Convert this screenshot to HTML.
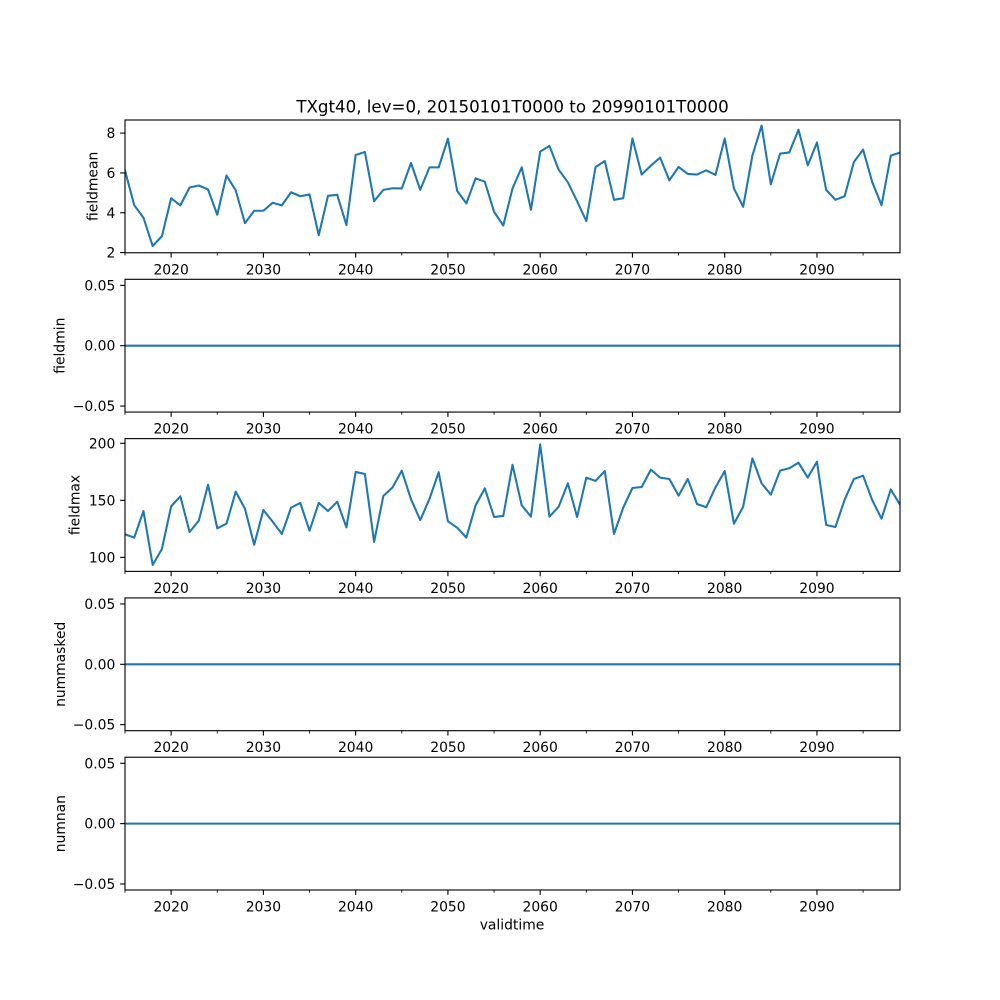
<!DOCTYPE html>
<html><head><meta charset="utf-8"><style>
html,body{margin:0;padding:0;background:#fff;}
svg{display:block;}
text{font-family:"DejaVu Sans","Liberation Sans",sans-serif;fill:#000;}
.t{font-size:13.89px;}
.yt{font-size:13.89px;text-anchor:end;}
.xt{font-size:13.89px;text-anchor:middle;}
.ln{fill:none;stroke:#1f77b4;stroke-width:2.08px;stroke-linejoin:round;stroke-linecap:square;}
.sp{fill:none;stroke:#000;stroke-width:1.11px;}
.tk{stroke:#000;stroke-width:1.11px;}
.mt{stroke:#000;stroke-width:0.83px;}
</style></head><body>
<svg width="1000" height="1000" viewBox="0 0 1000 1000" xmlns="http://www.w3.org/2000/svg">
<rect width="1000" height="1000" fill="#fff"/>
<defs>
<clipPath id="c1"><rect x="125" y="120" width="775" height="132.76"/></clipPath>
<clipPath id="c3"><rect x="125" y="438.62" width="775" height="132.76"/></clipPath>
</defs>

<text x="512.5" y="112.7" style="font-size:16.67px;text-anchor:middle">TXgt40, lev=0, 20150101T0000 to 20990101T0000</text>

<!-- Axes 1 fieldmean -->
<g clip-path="url(#c1)">
<polyline class="ln" vector-effect="non-scaling-stroke" transform="translate(125 252.76) scale(9.2262 -19.904) translate(0 -1.99)" points="0,6.12 1,4.38 2,3.75 3,2.33 4,2.82 5,4.73 6,4.37 7,5.27 8,5.37 9,5.17 10,3.9 11,5.87 12,5.13 13,3.48 14,4.1 15,4.1 16,4.5 17,4.37 18,5.03 19,4.83 20,4.92 21,2.87 22,4.85 23,4.9 24,3.38 25,6.9 26,7.05 27,4.58 28,5.15 29,5.23 30,5.22 31,6.5 32,5.15 33,6.28 34,6.28 35,7.72 36,5.1 37,4.47 38,5.73 39,5.56 40,4.05 41,3.36 42,5.22 43,6.28 44,4.15 45,7.07 46,7.36 47,6.17 48,5.53 49,4.58 50,3.58 51,6.3 52,6.6 53,4.65 54,4.73 55,7.73 56,5.92 57,6.37 58,6.77 59,5.63 60,6.3 61,5.95 62,5.92 63,6.13 64,5.9 65,7.73 66,5.22 67,4.3 68,6.87 69,8.38 70,5.43 71,6.97 72,7.03 73,8.17 74,6.38 75,7.53 76,5.15 77,4.65 78,4.83 79,6.55 80,7.17 81,5.53 82,4.38 83,6.87 84,7.02"/>
</g>
<rect class="sp" x="125" y="120" width="775" height="132.76"/>
<g class="tk">
<line x1="120.14" y1="133.1" x2="125" y2="133.1"/>
<line x1="120.14" y1="172.95" x2="125" y2="172.95"/>
<line x1="120.14" y1="212.75" x2="125" y2="212.75"/>
<line x1="120.14" y1="252.56" x2="125" y2="252.56"/>
</g>
<text class="yt" x="115.3" y="138.1">8</text>
<text class="yt" x="115.3" y="177.95">6</text>
<text class="yt" x="115.3" y="217.75">4</text>
<text class="yt" x="115.3" y="257.56">2</text>
<g class="tk">
<line x1="171.13" y1="252.76" x2="171.13" y2="257.62"/><line x1="263.39" y1="252.76" x2="263.39" y2="257.62"/><line x1="355.65" y1="252.76" x2="355.65" y2="257.62"/><line x1="447.92" y1="252.76" x2="447.92" y2="257.62"/><line x1="540.18" y1="252.76" x2="540.18" y2="257.62"/><line x1="632.44" y1="252.76" x2="632.44" y2="257.62"/><line x1="724.70" y1="252.76" x2="724.70" y2="257.62"/><line x1="816.96" y1="252.76" x2="816.96" y2="257.62"/>
</g>
<g class="mt">
<line x1="125" y1="252.76" x2="125" y2="255.54"/><line x1="217.26" y1="252.76" x2="217.26" y2="255.54"/><line x1="309.52" y1="252.76" x2="309.52" y2="255.54"/><line x1="401.79" y1="252.76" x2="401.79" y2="255.54"/><line x1="494.05" y1="252.76" x2="494.05" y2="255.54"/><line x1="586.31" y1="252.76" x2="586.31" y2="255.54"/><line x1="678.57" y1="252.76" x2="678.57" y2="255.54"/><line x1="770.83" y1="252.76" x2="770.83" y2="255.54"/><line x1="863.10" y1="252.76" x2="863.10" y2="255.54"/>
</g>
<text class="xt" x="171.13" y="274.3">2020</text><text class="xt" x="263.39" y="274.3">2030</text><text class="xt" x="355.65" y="274.3">2040</text><text class="xt" x="447.92" y="274.3">2050</text><text class="xt" x="540.18" y="274.3">2060</text><text class="xt" x="632.44" y="274.3">2070</text><text class="xt" x="724.70" y="274.3">2080</text><text class="xt" x="816.96" y="274.3">2090</text>
<text class="t" transform="translate(97.3 186.4) rotate(-90)" text-anchor="middle">fieldmean</text>

<!-- Axes 2 fieldmin -->
<line class="ln" x1="125" y1="345.69" x2="900" y2="345.69" style="stroke-linecap:butt"/>
<rect class="sp" x="125" y="279.31" width="775" height="132.76"/>
<g class="tk">
<line x1="120.14" y1="285.34" x2="125" y2="285.34"/>
<line x1="120.14" y1="345.69" x2="125" y2="345.69"/>
<line x1="120.14" y1="406.04" x2="125" y2="406.04"/>
</g>
<text class="yt" x="115.3" y="290.34">0.05</text>
<text class="yt" x="115.3" y="350.69">0.00</text>
<text class="yt" x="115.3" y="411.04">−0.05</text>
<g class="tk">
<line x1="171.13" y1="412.07" x2="171.13" y2="416.93"/><line x1="263.39" y1="412.07" x2="263.39" y2="416.93"/><line x1="355.65" y1="412.07" x2="355.65" y2="416.93"/><line x1="447.92" y1="412.07" x2="447.92" y2="416.93"/><line x1="540.18" y1="412.07" x2="540.18" y2="416.93"/><line x1="632.44" y1="412.07" x2="632.44" y2="416.93"/><line x1="724.70" y1="412.07" x2="724.70" y2="416.93"/><line x1="816.96" y1="412.07" x2="816.96" y2="416.93"/>
</g>
<g class="mt">
<line x1="125" y1="412.07" x2="125" y2="414.85"/><line x1="217.26" y1="412.07" x2="217.26" y2="414.85"/><line x1="309.52" y1="412.07" x2="309.52" y2="414.85"/><line x1="401.79" y1="412.07" x2="401.79" y2="414.85"/><line x1="494.05" y1="412.07" x2="494.05" y2="414.85"/><line x1="586.31" y1="412.07" x2="586.31" y2="414.85"/><line x1="678.57" y1="412.07" x2="678.57" y2="414.85"/><line x1="770.83" y1="412.07" x2="770.83" y2="414.85"/><line x1="863.10" y1="412.07" x2="863.10" y2="414.85"/>
</g>
<text class="xt" x="171.13" y="433.6">2020</text><text class="xt" x="263.39" y="433.6">2030</text><text class="xt" x="355.65" y="433.6">2040</text><text class="xt" x="447.92" y="433.6">2050</text><text class="xt" x="540.18" y="433.6">2060</text><text class="xt" x="632.44" y="433.6">2070</text><text class="xt" x="724.70" y="433.6">2080</text><text class="xt" x="816.96" y="433.6">2090</text>
<text class="t" transform="translate(64.5 345.69) rotate(-90)" text-anchor="middle">fieldmin</text>

<!-- Axes 3 fieldmax -->
<g clip-path="url(#c3)">
<polyline class="ln" vector-effect="non-scaling-stroke" transform="translate(125 571.38) scale(9.2262 -1.1405) translate(0 -87.7)" points="0,120.2 1,117.3 2,140.6 3,93.3 4,107.3 5,144.7 6,153.5 7,122.2 8,132.2 9,163.7 10,125.4 11,129.5 12,157.6 13,142.7 14,111.1 15,141.5 16,131.3 17,120.5 18,143.6 19,147.7 20,123.4 21,147.7 22,140.6 23,148.8 24,126.3 25,174.9 26,173.1 27,113.5 28,153.8 29,161.4 30,176 31,150.9 32,132.7 33,151.2 34,174.6 35,131.6 36,126 37,117.3 38,145.6 39,160.5 40,135.4 41,136.3 42,181.2 43,145.6 44,135.7 45,199.1 46,135.7 47,144.4 48,164.9 49,135.4 50,169.9 51,167 52,175.7 53,120.5 54,143.6 55,160.8 56,161.7 57,176.9 58,169.9 59,168.7 60,154.1 61,168.7 62,146.8 63,143.9 64,161.4 65,175.7 66,129.5 67,144.4 68,186.8 69,164.9 70,155 71,176 72,178.1 73,183 74,169.9 75,183.9 76,128.4 77,126.6 78,150.6 79,168.7 80,171.6 81,150 82,133.9 83,159.6 84,146.2"/>
</g>
<rect class="sp" x="125" y="438.62" width="775" height="132.76"/>
<g class="tk">
<line x1="120.14" y1="443.3" x2="125" y2="443.3"/>
<line x1="120.14" y1="500.33" x2="125" y2="500.33"/>
<line x1="120.14" y1="557.35" x2="125" y2="557.35"/>
</g>
<text class="yt" x="115.3" y="448.3">200</text>
<text class="yt" x="115.3" y="505.33">150</text>
<text class="yt" x="115.3" y="562.35">100</text>
<g class="tk">
<line x1="171.13" y1="571.38" x2="171.13" y2="576.24"/><line x1="263.39" y1="571.38" x2="263.39" y2="576.24"/><line x1="355.65" y1="571.38" x2="355.65" y2="576.24"/><line x1="447.92" y1="571.38" x2="447.92" y2="576.24"/><line x1="540.18" y1="571.38" x2="540.18" y2="576.24"/><line x1="632.44" y1="571.38" x2="632.44" y2="576.24"/><line x1="724.70" y1="571.38" x2="724.70" y2="576.24"/><line x1="816.96" y1="571.38" x2="816.96" y2="576.24"/>
</g>
<g class="mt">
<line x1="125" y1="571.38" x2="125" y2="574.16"/><line x1="217.26" y1="571.38" x2="217.26" y2="574.16"/><line x1="309.52" y1="571.38" x2="309.52" y2="574.16"/><line x1="401.79" y1="571.38" x2="401.79" y2="574.16"/><line x1="494.05" y1="571.38" x2="494.05" y2="574.16"/><line x1="586.31" y1="571.38" x2="586.31" y2="574.16"/><line x1="678.57" y1="571.38" x2="678.57" y2="574.16"/><line x1="770.83" y1="571.38" x2="770.83" y2="574.16"/><line x1="863.10" y1="571.38" x2="863.10" y2="574.16"/>
</g>
<text class="xt" x="171.13" y="592.9">2020</text><text class="xt" x="263.39" y="592.9">2030</text><text class="xt" x="355.65" y="592.9">2040</text><text class="xt" x="447.92" y="592.9">2050</text><text class="xt" x="540.18" y="592.9">2060</text><text class="xt" x="632.44" y="592.9">2070</text><text class="xt" x="724.70" y="592.9">2080</text><text class="xt" x="816.96" y="592.9">2090</text>
<text class="t" transform="translate(79.3 505) rotate(-90)" text-anchor="middle">fieldmax</text>

<!-- Axes 4 nummasked -->
<line class="ln" x1="125" y1="664.31" x2="900" y2="664.31" style="stroke-linecap:butt"/>
<rect class="sp" x="125" y="597.93" width="775" height="132.76"/>
<g class="tk">
<line x1="120.14" y1="603.96" x2="125" y2="603.96"/>
<line x1="120.14" y1="664.31" x2="125" y2="664.31"/>
<line x1="120.14" y1="724.66" x2="125" y2="724.66"/>
</g>
<text class="yt" x="115.3" y="608.96">0.05</text>
<text class="yt" x="115.3" y="669.31">0.00</text>
<text class="yt" x="115.3" y="729.66">−0.05</text>
<g class="tk">
<line x1="171.13" y1="730.69" x2="171.13" y2="735.55"/><line x1="263.39" y1="730.69" x2="263.39" y2="735.55"/><line x1="355.65" y1="730.69" x2="355.65" y2="735.55"/><line x1="447.92" y1="730.69" x2="447.92" y2="735.55"/><line x1="540.18" y1="730.69" x2="540.18" y2="735.55"/><line x1="632.44" y1="730.69" x2="632.44" y2="735.55"/><line x1="724.70" y1="730.69" x2="724.70" y2="735.55"/><line x1="816.96" y1="730.69" x2="816.96" y2="735.55"/>
</g>
<g class="mt">
<line x1="125" y1="730.69" x2="125" y2="733.47"/><line x1="217.26" y1="730.69" x2="217.26" y2="733.47"/><line x1="309.52" y1="730.69" x2="309.52" y2="733.47"/><line x1="401.79" y1="730.69" x2="401.79" y2="733.47"/><line x1="494.05" y1="730.69" x2="494.05" y2="733.47"/><line x1="586.31" y1="730.69" x2="586.31" y2="733.47"/><line x1="678.57" y1="730.69" x2="678.57" y2="733.47"/><line x1="770.83" y1="730.69" x2="770.83" y2="733.47"/><line x1="863.10" y1="730.69" x2="863.10" y2="733.47"/>
</g>
<text class="xt" x="171.13" y="752.2">2020</text><text class="xt" x="263.39" y="752.2">2030</text><text class="xt" x="355.65" y="752.2">2040</text><text class="xt" x="447.92" y="752.2">2050</text><text class="xt" x="540.18" y="752.2">2060</text><text class="xt" x="632.44" y="752.2">2070</text><text class="xt" x="724.70" y="752.2">2080</text><text class="xt" x="816.96" y="752.2">2090</text>
<text class="t" transform="translate(65 664.31) rotate(-90)" text-anchor="middle">nummasked</text>

<!-- Axes 5 numnan -->
<line class="ln" x1="125" y1="823.62" x2="900" y2="823.62" style="stroke-linecap:butt"/>
<rect class="sp" x="125" y="757.24" width="775" height="132.76"/>
<g class="tk">
<line x1="120.14" y1="763.27" x2="125" y2="763.27"/>
<line x1="120.14" y1="823.62" x2="125" y2="823.62"/>
<line x1="120.14" y1="883.97" x2="125" y2="883.97"/>
</g>
<text class="yt" x="115.3" y="768.27">0.05</text>
<text class="yt" x="115.3" y="828.62">0.00</text>
<text class="yt" x="115.3" y="888.97">−0.05</text>
<g class="tk">
<line x1="171.13" y1="890" x2="171.13" y2="894.86"/><line x1="263.39" y1="890" x2="263.39" y2="894.86"/><line x1="355.65" y1="890" x2="355.65" y2="894.86"/><line x1="447.92" y1="890" x2="447.92" y2="894.86"/><line x1="540.18" y1="890" x2="540.18" y2="894.86"/><line x1="632.44" y1="890" x2="632.44" y2="894.86"/><line x1="724.70" y1="890" x2="724.70" y2="894.86"/><line x1="816.96" y1="890" x2="816.96" y2="894.86"/>
</g>
<g class="mt">
<line x1="125" y1="890" x2="125" y2="892.78"/><line x1="217.26" y1="890" x2="217.26" y2="892.78"/><line x1="309.52" y1="890" x2="309.52" y2="892.78"/><line x1="401.79" y1="890" x2="401.79" y2="892.78"/><line x1="494.05" y1="890" x2="494.05" y2="892.78"/><line x1="586.31" y1="890" x2="586.31" y2="892.78"/><line x1="678.57" y1="890" x2="678.57" y2="892.78"/><line x1="770.83" y1="890" x2="770.83" y2="892.78"/><line x1="863.10" y1="890" x2="863.10" y2="892.78"/>
</g>
<text class="xt" x="171.13" y="911.6">2020</text><text class="xt" x="263.39" y="911.6">2030</text><text class="xt" x="355.65" y="911.6">2040</text><text class="xt" x="447.92" y="911.6">2050</text><text class="xt" x="540.18" y="911.6">2060</text><text class="xt" x="632.44" y="911.6">2070</text><text class="xt" x="724.70" y="911.6">2080</text><text class="xt" x="816.96" y="911.6">2090</text>
<text class="t" transform="translate(65 823.62) rotate(-90)" text-anchor="middle">numnan</text>
<text class="xt" x="512" y="929.3">validtime</text>
</svg>
</body></html>
